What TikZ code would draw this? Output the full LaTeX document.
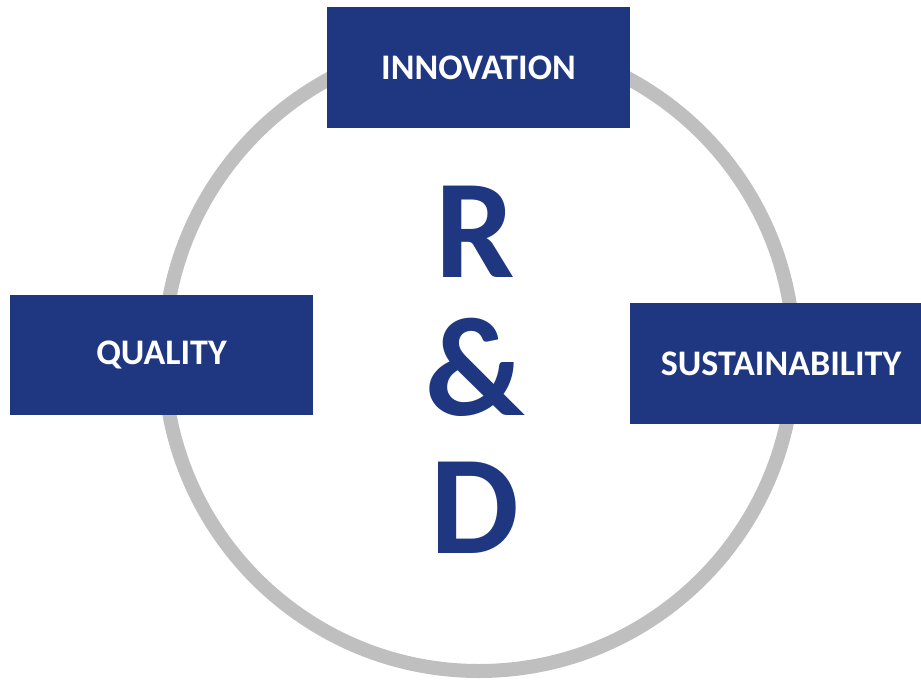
\documentclass[tikz,border=0pt]{standalone}
\usepackage{fontspec}
\setmainfont{Carlito}
\usepackage{tikz}
\usetikzlibrary{positioning}
\definecolor{rdblue}{RGB}{31,54,128}
\definecolor{ringgray}{RGB}{191,191,191}

\begin{document}
\begin{tikzpicture}[x=1bp,y=-1bp,
    topicbox/.style={fill=rdblue,draw=none,minimum width=303bp,minimum height=120bp,inner sep=0pt,align=center,text=white,font=\fontsize{36bp}{40bp}\selectfont\bfseries},
    bigletter/.style={anchor=base,inner sep=0pt,text=rdblue,font=\fontsize{141bp}{138bp}\selectfont\bfseries},
    ring/.style={draw=ringgray,line width=14bp}
  ]
    \useasboundingbox (0,0) rectangle (921,680);

    % Outer ring
    \draw[ring] (479,356) circle[radius=315bp];

    % R & D in the middle
    \node[bigletter] (letterR) at (475,277) {R};
    \node[bigletter] (amp) at (475,415) {\&};
    \node[bigletter] (letterD) at (475,553) {D};

    % Topic boxes on the ring
    \node[topicbox] (innovation) at (478.5,67.5) {INNOVATION};
    \node[topicbox] (quality) at (161.5,354.5) {QUALITY};
    \node[topicbox,minimum height=121bp] (sustain) at (781,363.5) {SUSTAINABILITY};
  \end{tikzpicture}
\end{document}
